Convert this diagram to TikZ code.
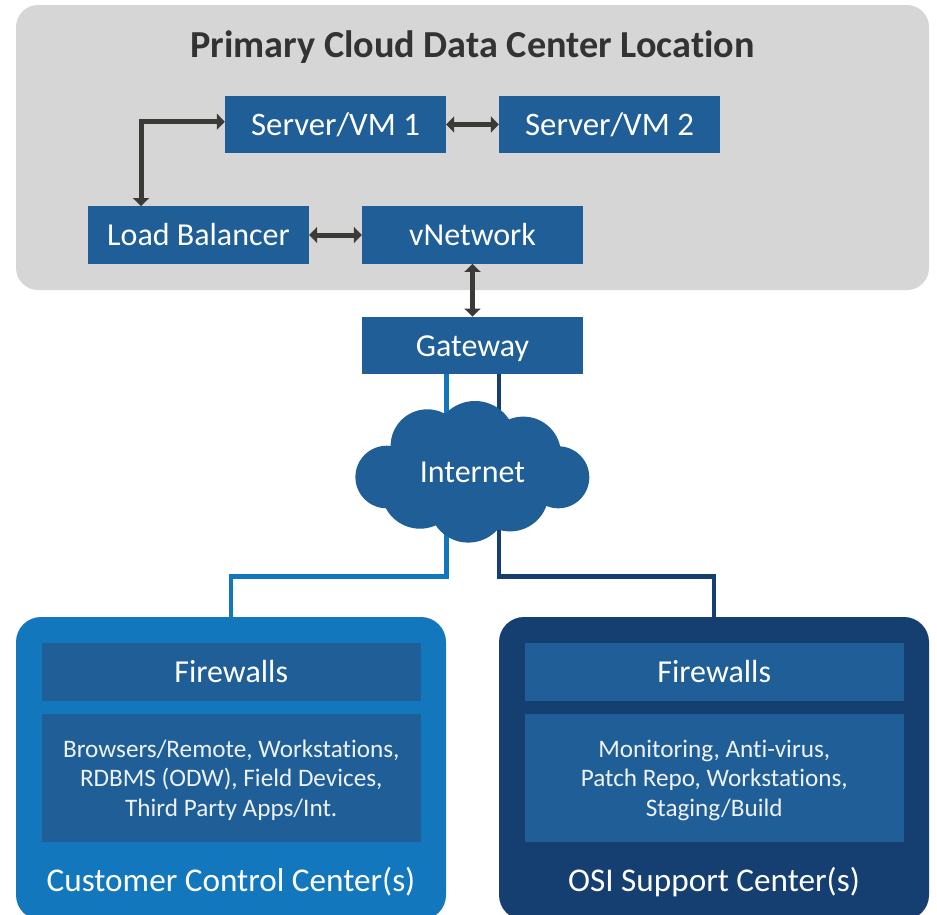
\documentclass[tikz,border=0pt]{standalone}
\usepackage{fontspec}
\setmainfont[Ligatures=CommonOff]{Carlito}
\usetikzlibrary{arrows.meta}
\definecolor{boxblue}{HTML}{1F5E96}
\definecolor{custblue}{HTML}{1277BD}
\definecolor{suppblue}{HTML}{143F70}
\definecolor{panelgray}{HTML}{D6D6D6}
\definecolor{arrowdark}{HTML}{3B3A36}
\definecolor{titledark}{HTML}{333333}
\newcommand{\firstln}{\rule{0pt}{25.6pt}}
\newcommand{\lastln}{\rule[-8pt]{0pt}{8pt}}
\tikzset{
  bluebox/.style={fill=boxblue,text=white,inner sep=0pt,minimum width=221,minimum height=57.5,text height=25,text depth=4,font=\fontsize{32}{36}\selectfont},
  fwbox/.style={fill=boxblue,text=white,inner sep=0pt,minimum width=379.5,minimum height=58,text height=25,text depth=4,font=\fontsize{32}{36}\selectfont},
  bodybox/.style={fill=boxblue,text=white!92!boxblue,inner sep=0pt,minimum width=379.5,minimum height=128,align=center,font=\fontsize{25.2}{29.5}\selectfont},
  center box/.style={rounded corners=25,inner sep=0pt,minimum width=430,minimum height=303},
  caption/.style={text=white,inner sep=0pt,font=\fontsize{33.2}{36}\selectfont},
  biarrow/.style={draw=arrowdark,line width=5,{Triangle[length=8,width=16]}-{Triangle[length=8,width=16]}},
  uplink/.style={line width=4.6},
  cloudpart/.style={fill=boxblue,draw=none}
}
\begin{document}
\begin{tikzpicture}[x=1pt,y=-1pt]
\useasboundingbox (0,0) rectangle (937,914);
\node[fill=panelgray,rounded corners=22,inner sep=0pt,minimum width=913,minimum height=285] (panel) at (472.5,147.5) {};
\node[text=titledark,inner sep=0pt,font=\bfseries\fontsize{38.2}{42}\selectfont] (title) at (472.5,47.5) {Primary Cloud Data Center Location};
\begin{scope}
\clip (0,0) rectangle (937,914);
\node[center box,fill=custblue] (cust) at (231,768.5) {};
\node[center box,fill=suppblue] (supp) at (714,768.5) {};
\end{scope}
\node[bluebox,font=\fontsize{32.8}{36}\selectfont] (s1) at (335.5,124.5) {Server/VM 1};
\node[bluebox,font=\fontsize{32.8}{36}\selectfont] (s2) at (609.5,124.5) {Server/VM 2};
\node[bluebox] (lb) at (198.5,235) {Load Balancer};
\node[bluebox] (vn) at (472.5,235) {vNetwork};
\node[bluebox] (gw) at (472.5,345.5) {Gateway};
\draw[biarrow] ([yshift=2.8]s1.west) -| ([xshift=-57.5]lb.north);
\draw[biarrow] (s1.east) -- (s2.west);
\draw[biarrow] (lb.east) -- (vn.west);
\draw[biarrow] (vn.south) -- (gw.north);
\draw[uplink,draw=custblue] ([xshift=-26]gw.south) |- (231,576.3) -- (cust.north);
\draw[uplink,draw=suppblue] ([xshift=26.5]gw.south) |- (714,576.3) -- (supp.north);
\fill[cloudpart] (386.7,477) circle (31.3);
\fill[cloudpart] (427.3,446) circle (36.7);
\fill[cloudpart] (475,441.7) circle (40.7);
\fill[cloudpart] (523.3,454.3) circle (37.7);
\fill[cloudpart] (558.3,477.3) circle (31);
\fill[cloudpart] (420,490) circle (38.7);
\fill[cloudpart] (468.3,503.3) circle (39.3);
\fill[cloudpart] (510,492.7) circle (38.7);
\fill[cloudpart] (395,450) rectangle (550,505);
\node[text=white,inner sep=0pt,text height=25,text depth=4,font=\fontsize{32}{36}\selectfont] (net) at (472.5,472) {Internet};
\node[fwbox] (fw1) at (231.25,672) {Firewalls};
\node[bodybox] (b1) at (231.25,778) {\firstln Browsers/Remote, Workstations,\\RDBMS (ODW), Field Devices,\\\lastln Third Party Apps/Int.};
\node[caption,text height=25,text depth=4] (c1) at (231,881.2) {Customer Control Center(s)};
\node[fwbox] (fw2) at (714.25,672) {Firewalls};
\node[bodybox] (b2) at (714.25,778) {\firstln Monitoring, Anti-virus,\\Patch Repo, Workstations,\\\lastln Staging/Build};
\node[caption,text height=25,text depth=4] (c2) at (714,881.2) {OSI Support Center(s)};
\end{tikzpicture}
\end{document}
